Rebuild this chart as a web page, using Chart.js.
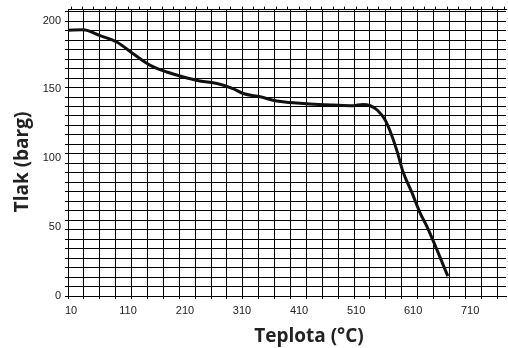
<!DOCTYPE html>
<html>
<head>
  <title>Tlak vs teplota</title>
  <script src="https://cdn.jsdelivr.net/npm/chart.js"></script>
  <style>
    html, body { margin: 0; padding: 0; background: #fff; }
    #wrap { width: 508px; height: 348px; }
  </style>
</head>
<body>
  <div id="wrap"><canvas id="chart"></canvas></div>

  <script>
    // Hodnoty
    var teplota = [5, 31, 61, 91, 119, 149, 178, 207, 236, 266, 294, 312, 342, 371, 394, 429, 470, 505, 522, 535, 547, 561, 570, 582, 592, 608, 622, 635, 671];
    var tlak = [193, 193.3, 189, 184.2, 175.8, 167.4, 162.6, 159, 156.1, 154.2, 150.6, 147, 144.6, 141.5, 140.5, 139.4, 138.6, 138.1, 139.1, 138.1, 135, 127.8, 119.4, 105, 90.6, 75, 60.6, 49.9, 14.4];

    var xTicks = [10, 110, 210, 310, 410, 510, 610, 710];
    var yTicks = [0, 50, 100, 150, 200];
    var xTitle = 'Teplota (°C)';
    var yTitle = 'Tlak (barg)';

    var points = teplota.map(function (t, i) { return { x: t, y: tlak[i] }; });

    // popisky os kreslené přímo do plátna
    var titlesPlugin = {
      id: 'titles',
      afterDraw: function (chart) {
        var ctx = chart.ctx;
        ctx.save();
        ctx.fillStyle = '#222';
        ctx.font = 'bold 19px "Open Sans"';
        ctx.textAlign = 'center';
        ctx.textBaseline = 'middle';
        ctx.fillText(xTitle, 309, 337);
        ctx.translate(23, 162);
        ctx.rotate(-Math.PI / 2);
        ctx.fillText(yTitle, 0, 0);
        ctx.restore();
      }
    };

    function setTicks(list) {
      return function (scale) {
        scale.ticks = list.map(function (v) { return { value: v }; });
      };
    }

    function gridTicks(n) {
      return function (scale) {
        var t = [];
        for (var i = 0; i <= n; i++) t.push({ value: i });
        scale.ticks = t;
      };
    }

    var config = {
      type: 'line',
      data: {
        datasets: [{
          data: points,
          xAxisID: 'x',
          yAxisID: 'y',
          borderColor: '#111',
          borderWidth: 3,
          pointRadius: 0,
          cubicInterpolationMode: 'monotone',
          fill: false
        }]
      },
      options: {
        responsive: true,
        maintainAspectRatio: false,
        animation: false,
        layout: { padding: { right: 2 } },
        plugins: {
          legend: { display: false },
          tooltip: { enabled: false }
        },
        scales: {
          xGrid: {
            type: 'linear',
            position: 'bottom',
            min: 0,
            max: 27.56,
            afterBuildTicks: gridTicks(27),
            afterFit: function (s) { s.height = 4; },
            ticks: { display: false },
            grid: { color: '#000', lineWidth: 1, tickLength: 3 },
            border: { display: true, color: '#000', width: 1 }
          },
          x: {
            type: 'linear',
            position: 'bottom',
            min: 4.7,
            max: 773,
            afterBuildTicks: setTicks(xTicks),
            afterFit: function (s) { s.height = 48; },
            ticks: {
              padding: 4,
              maxRotation: 0,
              color: '#222',
              font: { family: 'Liberation Sans', size: 11 }
            },
            grid: { display: false, drawTicks: false },
            border: { display: false }
          },
          yGrid: {
            type: 'linear',
            position: 'left',
            min: 0,
            max: 30.23,
            afterBuildTicks: gridTicks(30),
            afterFit: function (s) { s.width = 4; },
            ticks: { display: false },
            grid: { color: '#000', lineWidth: 1, tickLength: 3 },
            border: { display: true, color: '#000', width: 1 }
          },
          y: {
            type: 'linear',
            position: 'left',
            min: 0,
            max: 207.9,
            afterBuildTicks: setTicks(yTicks),
            afterFit: function (s) { s.width = 64; },
            ticks: {
              padding: 3,
              color: '#222',
              font: { family: 'Liberation Sans', size: 11 }
            },
            grid: { display: false, drawTicks: false },
            border: { display: false }
          },
          xTop: {
            type: 'linear',
            position: 'top',
            min: 4.7,
            max: 773,
            afterBuildTicks: function (s) {
              var t = [];
              for (var v = 10; v <= 770; v += 20) t.push({ value: v });
              s.ticks = t;
            },
            afterFit: function (s) { s.height = 7; },
            ticks: { display: false },
            grid: { drawOnChartArea: false, color: '#000', tickLength: 3 },
            border: { display: true, color: '#000', width: 1 }
          }
        }
      },
      plugins: [titlesPlugin]
    };

    var chart = new Chart(document.getElementById('chart').getContext('2d'), config);
  </script>
</body>
</html>
